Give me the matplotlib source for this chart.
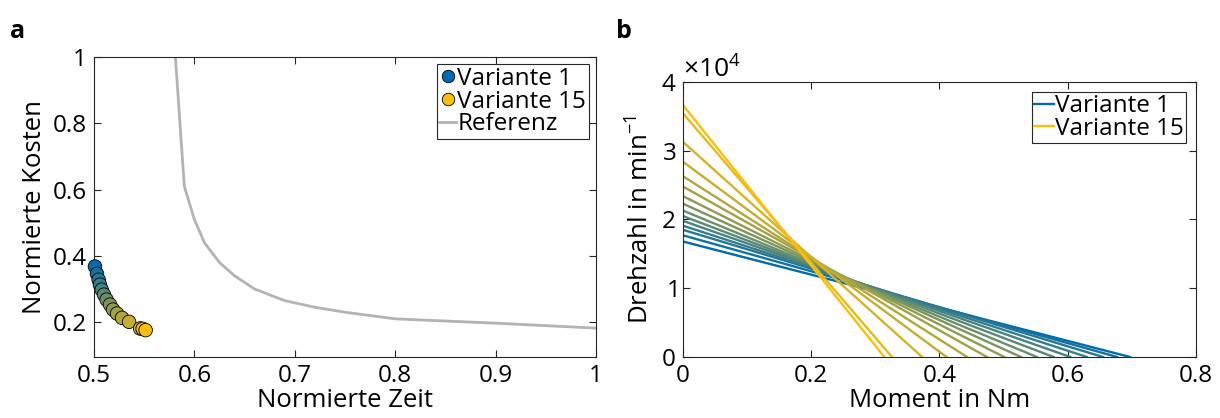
import matplotlib.pyplot as plt
import numpy as np
from matplotlib.lines import Line2D
from matplotlib.ticker import FormatStrFormatter, ScalarFormatter

plt.rcParams['font.family'] = ['Open Sans', 'DejaVu Sans']
plt.rcParams['mathtext.fontset'] = 'custom'
plt.rcParams['mathtext.rm'] = 'Open Sans'
plt.rcParams['mathtext.it'] = 'Open Sans:italic'

# Pareto-Punkte der Varianten 1..15
zeit = [0.501, 0.503, 0.5047, 0.506, 0.5077, 0.510, 0.5126, 0.516, 0.519,
        0.523, 0.528, 0.535, 0.546, 0.5485, 0.5515]
kosten = [0.368, 0.346, 0.328, 0.313, 0.298, 0.283, 0.268, 0.253, 0.238,
          0.226, 0.213, 0.201, 0.181, 0.180, 0.176]

# Referenzkurve
ref_zeit = [0.580, 0.590, 0.600, 0.610, 0.625, 0.640, 0.660, 0.690,
            0.720, 0.750, 0.800, 0.900, 1.000]
ref_kosten = [1.05, 0.61, 0.51, 0.44, 0.38, 0.34, 0.30, 0.265,
              0.245, 0.23, 0.21, 0.197, 0.182]

# Kennlinien: Leerlaufdrehzahl und Maximalmoment je Variante
n_leer = [1.68e4, 1.77e4, 1.85e4, 1.91e4, 1.98e4, 2.05e4, 2.13e4, 2.23e4,
          2.34e4, 2.48e4, 2.63e4, 2.84e4, 3.13e4, 3.545e4, 3.665e4]
m_max = [0.697, 0.677, 0.655, 0.630, 0.604, 0.578, 0.552, 0.527, 0.501,
         0.474, 0.443, 0.411, 0.373, 0.326, 0.314]

blau = np.array([0.0, 0.42, 0.68])
gelb = np.array([0.98, 0.75, 0.05])
farben = [tuple(blau + (gelb - blau) * i / 14) for i in range(15)]
achsfarbe = '#262626'

fig = plt.figure(figsize=(12.2, 4.18), dpi=100)
ax1 = fig.add_axes([0.077, 0.146, 0.4115, 0.7176])
ax2 = fig.add_axes([0.5598, 0.146, 0.4205, 0.6578])

# --- a ---
ax1.plot(ref_zeit, ref_kosten, color='#b3b3b3', lw=2, zorder=1)
ax1.scatter(zeit, kosten, c=farben, s=95, edgecolors='black', linewidths=0.6,
            zorder=3, clip_on=False)
ax1.set_xlim(0.5, 1)
ax1.set_ylim(0.095, 1)
ax1.set_xticks([0.5, 0.6, 0.7, 0.8, 0.9, 1.0])
ax1.set_yticks([0.2, 0.4, 0.6, 0.8, 1.0])
ax1.xaxis.set_major_formatter(FormatStrFormatter('%g'))
ax1.yaxis.set_major_formatter(FormatStrFormatter('%g'))
ax1.set_xlabel('Normierte Zeit', fontsize=18.5, labelpad=0)
ax1.set_ylabel('Normierte Kosten', fontsize=18.5, labelpad=4)
h = [Line2D([], [], ls='none', marker='o', ms=9, mfc=farben[0], mec='black', mew=0.6),
     Line2D([], [], ls='none', marker='o', ms=9, mfc=farben[-1], mec='black', mew=0.6),
     Line2D([], [], color='#b3b3b3', lw=2)]
leg1 = ax1.legend(h, ['Variante 1', 'Variante 15', 'Referenz'], loc='upper right',
                  fontsize=17.5, frameon=True, fancybox=False, framealpha=1,
                  edgecolor=achsfarbe, handlelength=0.7, handletextpad=0.05,
                  borderpad=0.1, labelspacing=-0.05, borderaxespad=0.3)
leg1.get_frame().set_linewidth(0.8)

# --- b ---
for i in range(15):
    ax2.plot([0, m_max[i]], [n_leer[i], 0], color=farben[i], lw=1.7)
ax2.set_xlim(0, 0.8)
ax2.set_ylim(0, 4e4)
ax2.set_xticks([0, 0.2, 0.4, 0.6, 0.8])
ax2.set_yticks([0, 1e4, 2e4, 3e4, 4e4])
ax2.xaxis.set_major_formatter(FormatStrFormatter('%g'))
fmt = ScalarFormatter(useMathText=True)
fmt.set_powerlimits((0, 0))
ax2.yaxis.set_major_formatter(fmt)
ax2.yaxis.get_offset_text().set_fontsize(19)
ax2.set_xlabel('Moment in Nm', fontsize=18.5, labelpad=0)
ax2.set_ylabel('Drehzahl in min$^{-1}$', fontsize=18.5, labelpad=4)
h2 = [Line2D([], [], color=farben[0], lw=1.7), Line2D([], [], color=farben[-1], lw=1.7)]
leg2 = ax2.legend(h2, ['Variante 1', 'Variante 15'], loc='upper right',
                  fontsize=17.5, frameon=True, fancybox=False, framealpha=1,
                  edgecolor=achsfarbe, handlelength=0.8, handletextpad=0.05,
                  borderpad=0.1, labelspacing=-0.05, borderaxespad=0.4)
leg2.get_frame().set_linewidth(0.8)

for ax in (ax1, ax2):
    ax.tick_params(direction='in', top=True, right=True, length=5, width=0.8,
                   labelsize=17.5, colors=achsfarbe, labelcolor='black', pad=5)
    for s in ax.spines.values():
        s.set_color(achsfarbe)
        s.set_linewidth(0.8)

fig.text(0.008, 0.91, 'a', fontsize=18, fontweight='bold')
fig.text(0.505, 0.91, 'b', fontsize=18, fontweight='bold')

fig.savefig('out.png', dpi=100)
